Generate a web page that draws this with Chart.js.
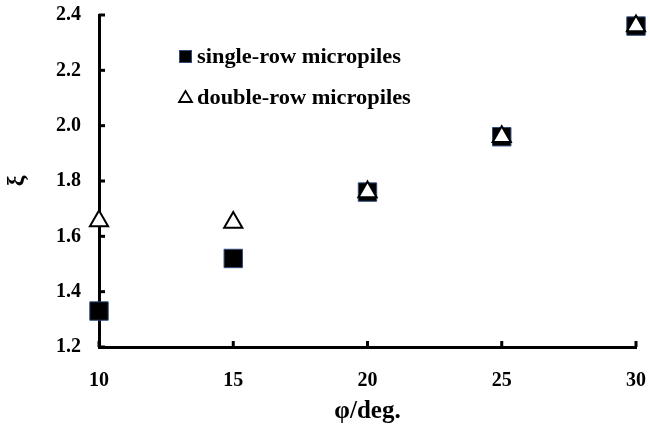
<!DOCTYPE html>
<html>
<head>
<meta charset="utf-8">
<script src="https://cdn.jsdelivr.net/npm/chart.js@4/dist/chart.umd.min.js"></script>
<style>
  html, body { margin: 0; padding: 0; background: #fff; }
  #wrap { width: 650px; height: 427px; }
</style>
</head>
<body>
<div id="wrap"><canvas id="myChart"></canvas></div>
<script>
'use strict';
// values
const phiDeg = [10, 15, 20, 25, 30];
const singleRow = [1.33, 1.52, 1.76, 1.96, 2.36];
const doubleRow = [1.655, 1.65, 1.76, 1.96, 2.36];
const seriesNames = ['single-row micropiles', 'double-row micropiles'];
const xTickValues = [10, 15, 20, 25, 30];
const yTickValues = [1.2, 1.4, 1.6, 1.8, 2.0, 2.2, 2.4];

const serif = "'Liberation Serif', 'Times New Roman', serif";

function toPoints(xs, ys) {
    return xs.map(function (x, i) { return { x: x, y: ys[i] }; });
}

// ticks pointing into the plot
const innerTicks = {
    id: 'innerTicks',
    afterDatasetsDraw: function (chart) {
        var ctx = chart.ctx, area = chart.chartArea;
        var xs = chart.scales.x, ys = chart.scales.y;
        ctx.save();
        ctx.strokeStyle = '#000';
        ctx.lineWidth = 3;
        xTickValues.forEach(function (v) {
            var px = xs.getPixelForValue(v);
            ctx.beginPath();
            ctx.moveTo(px, area.bottom);
            ctx.lineTo(px, area.bottom - 6);
            ctx.stroke();
        });
        yTickValues.forEach(function (v) {
            var py = ys.getPixelForValue(v);
            ctx.beginPath();
            ctx.moveTo(area.left, py);
            ctx.lineTo(area.left + 6, py);
            ctx.stroke();
        });
        ctx.restore();
    }
};

// legend inside the plot, top left
const insideLegend = {
    id: 'insideLegend',
    afterDraw: function (chart) {
        var ctx = chart.ctx;
        ctx.save();
        // square
        ctx.fillStyle = '#000';
        ctx.fillRect(179, 50, 13, 13);
        ctx.strokeStyle = '#2f4a7a';
        ctx.lineWidth = 1;
        ctx.strokeRect(179.5, 50.5, 12, 12);
        // triangle
        ctx.beginPath();
        ctx.moveTo(185.5, 91);
        ctx.lineTo(192, 102);
        ctx.lineTo(179, 102);
        ctx.closePath();
        ctx.fillStyle = '#fff';
        ctx.fill();
        ctx.strokeStyle = '#000';
        ctx.lineWidth = 1.8;
        ctx.stroke();
        // labels, a little wider like the source
        ctx.font = 'bold 20px ' + serif;
        ctx.fillStyle = '#000';
        ctx.textBaseline = 'alphabetic';
        [[seriesNames[0], 63], [seriesNames[1], 104]].forEach(function (it) {
            ctx.save();
            ctx.translate(197, it[1]);
            ctx.scale(1.12, 1);
            ctx.fillText(it[0], 0, 0);
            ctx.restore();
        });
        ctx.restore();
    }
};

var ctx = document.getElementById('myChart');
var myChart = new Chart(ctx, {
    type: 'scatter',
    data: {
        datasets: [
            {
                label: seriesNames[0],
                data: toPoints(phiDeg, singleRow),
                pointStyle: 'rect',
                pointRadius: 13,
                pointHoverRadius: 13,
                backgroundColor: '#000',
                borderColor: '#2f4a7a',
                borderWidth: 1,
                clip: false,
                order: 1
            },
            {
                label: seriesNames[1],
                data: toPoints(phiDeg, doubleRow),
                pointStyle: 'triangle',
                pointRadius: 10.5,
                pointHoverRadius: 10.5,
                backgroundColor: '#fff',
                borderColor: '#000',
                borderWidth: 2,
                clip: false,
                order: 0
            }
        ]
    },
    options: {
        responsive: true,
        maintainAspectRatio: false,
        animation: false,
        events: [],
        layout: { padding: { top: 15, right: 12, left: 0, bottom: 0 } },
        plugins: {
            legend: { display: false },
            tooltip: { enabled: false }
        },
        scales: {
            x: {
                type: 'linear',
                min: 10,
                max: 30,
                afterBuildTicks: function (s) { s.ticks = xTickValues.map(function (v) { return { value: v }; }); },
                afterFit: function (s) { s.height = 80; s.paddingLeft = 0; s.paddingRight = 0; },
                grid: { display: false, drawTicks: false },
                border: { display: true, color: '#000', width: 3 },
                ticks: {
                    padding: 22,
                    color: '#000',
                    maxRotation: 0,
                    font: { family: serif, size: 20, weight: 'bold' }
                },
                title: {
                    display: true,
                    text: 'φ/deg.',
                    color: '#000',
                    padding: { top: 3, bottom: 0 },
                    font: { family: serif, size: 25, weight: 'bold' }
                }
            },
            y: {
                type: 'linear',
                min: 1.2,
                max: 2.4,
                afterBuildTicks: function (s) { s.ticks = yTickValues.map(function (v) { return { value: v }; }); },
                afterFit: function (s) { s.width = 99; s.paddingTop = 0; s.paddingBottom = 0; },
                grid: { display: false, drawTicks: false },
                border: { display: true, color: '#000', width: 3 },
                ticks: {
                    padding: 18,
                    color: '#000',
                    font: { family: serif, size: 20, weight: 'bold' },
                    callback: function (v) { return Number(v).toFixed(1); }
                },
                title: {
                    display: true,
                    text: 'ξ',
                    color: '#000',
                    padding: { top: 2, bottom: 0 },
                    font: { family: serif, size: 24, weight: 'bold' }
                }
            }
        }
    },
    plugins: [innerTicks, insideLegend]
});
</script>
</body>
</html>
